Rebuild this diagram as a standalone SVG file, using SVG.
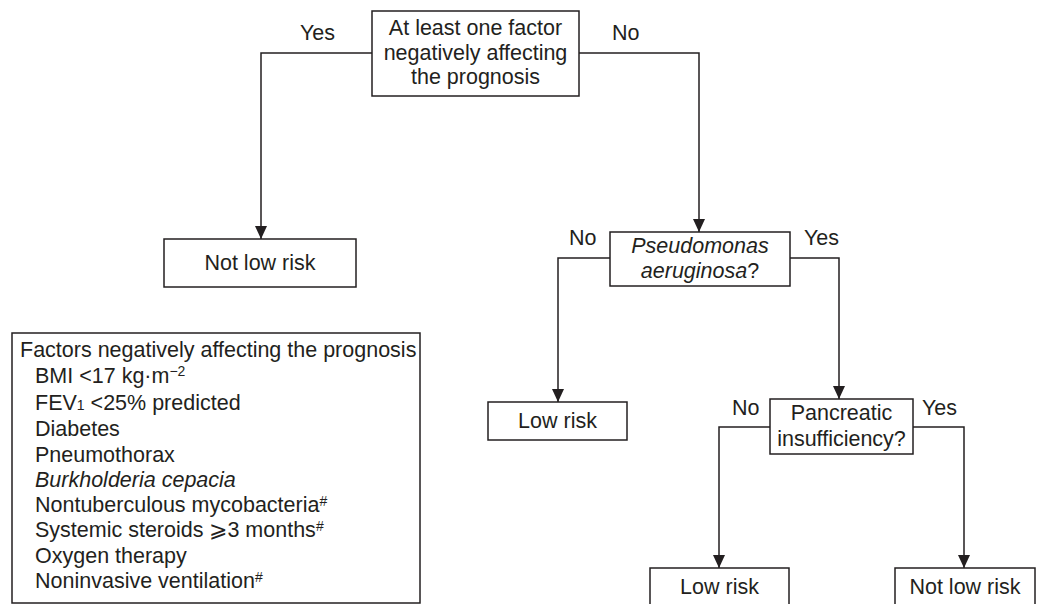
<svg xmlns="http://www.w3.org/2000/svg" width="1043" height="604" viewBox="0 0 1043 604">
<style>
text{font-family:"Liberation Sans",Arial,sans-serif;font-size:21.5px;fill:#231f20}
.c{text-anchor:middle}
.box{fill:#fff;stroke:#231f20;stroke-width:1.5}
.conn{fill:none;stroke:#231f20;stroke-width:1.5;marker-end:url(#ah)}
.i{font-style:italic}
.sup{font-size:14px}
</style>
<defs>
<marker id="ah" markerUnits="userSpaceOnUse" markerWidth="14" markerHeight="12" refX="13" refY="6" orient="auto" viewBox="0 0 14 12">
<path d="M0,0 L13,6 L0,12 Z" fill="#231f20"/>
</marker>
</defs>
<g id="connectors">
<path class="conn" d="M372,53 H261 V239"/>
<path class="conn" d="M579,53 H699 V232"/>
<path class="conn" d="M610,258 H558 V402"/>
<path class="conn" d="M790,258 H839 V399"/>
<path class="conn" d="M770,427 H719 V568"/>
<path class="conn" d="M913,427 H964 V568"/>
</g>
<g id="labels">
<text x="300" y="40">Yes</text>
<text x="612" y="40">No</text>
<text x="569" y="245">No</text>
<text x="804" y="245">Yes</text>
<text x="732" y="415">No</text>
<text x="922" y="415">Yes</text>
</g>
<g id="n-start">
<rect class="box" x="372" y="11" width="207" height="85"/>
<text class="c" x="475.5" y="35">At least one factor</text>
<text class="c" x="475.5" y="60">negatively affecting</text>
<text class="c" x="475.5" y="84">the prognosis</text>
</g>
<g id="n-notlow1">
<rect class="box" x="164" y="239" width="192" height="48"/>
<text class="c" x="260" y="270">Not low risk</text>
</g>
<g id="n-pseudo">
<rect class="box" x="610" y="232" width="180" height="54"/>
<text class="c" x="700" y="253"><tspan class="i">Pseudomonas</tspan></text>
<text class="c" x="700" y="278"><tspan class="i">aeruginosa</tspan>?</text>
</g>
<g id="n-low1">
<rect class="box" x="488" y="402" width="139" height="38"/>
<text class="c" x="557.5" y="428">Low risk</text>
</g>
<g id="n-pancreatic">
<rect class="box" x="770" y="399" width="143" height="55"/>
<text class="c" x="841.5" y="420">Pancreatic</text>
<text class="c" x="841.5" y="446">insufficiency?</text>
</g>
<g id="n-low2">
<rect class="box" x="650" y="568" width="139" height="44"/>
<text class="c" x="719.5" y="594">Low risk</text>
</g>
<g id="n-notlow2">
<rect class="box" x="895" y="568" width="140" height="44"/>
<text class="c" x="965" y="594">Not low risk</text>
</g>
<g id="n-legend">
<rect class="box" x="12" y="333" width="408" height="270"/>
<text x="20" y="357">Factors negatively affecting the prognosis</text>
<text x="35" y="383">BMI &lt;17 kg·m<tspan class="sup" dy="-7">−2</tspan></text>
<text x="35" y="410">FEV<tspan class="sup">1</tspan> &lt;25% predicted</text>
<text x="35" y="436">Diabetes</text>
<text x="35" y="462">Pneumothorax</text>
<text x="35" y="487" class="i">Burkholderia cepacia</text>
<text x="35" y="512">Nontuberculous mycobacteria<tspan class="sup" dy="-6">#</tspan></text>
<text x="35" y="537">Systemic steroids ⩾3 months<tspan class="sup" dy="-6">#</tspan></text>
<text x="35" y="563">Oxygen therapy</text>
<text x="35" y="588">Noninvasive ventilation<tspan class="sup" dy="-6">#</tspan></text>
</g>
</svg>
